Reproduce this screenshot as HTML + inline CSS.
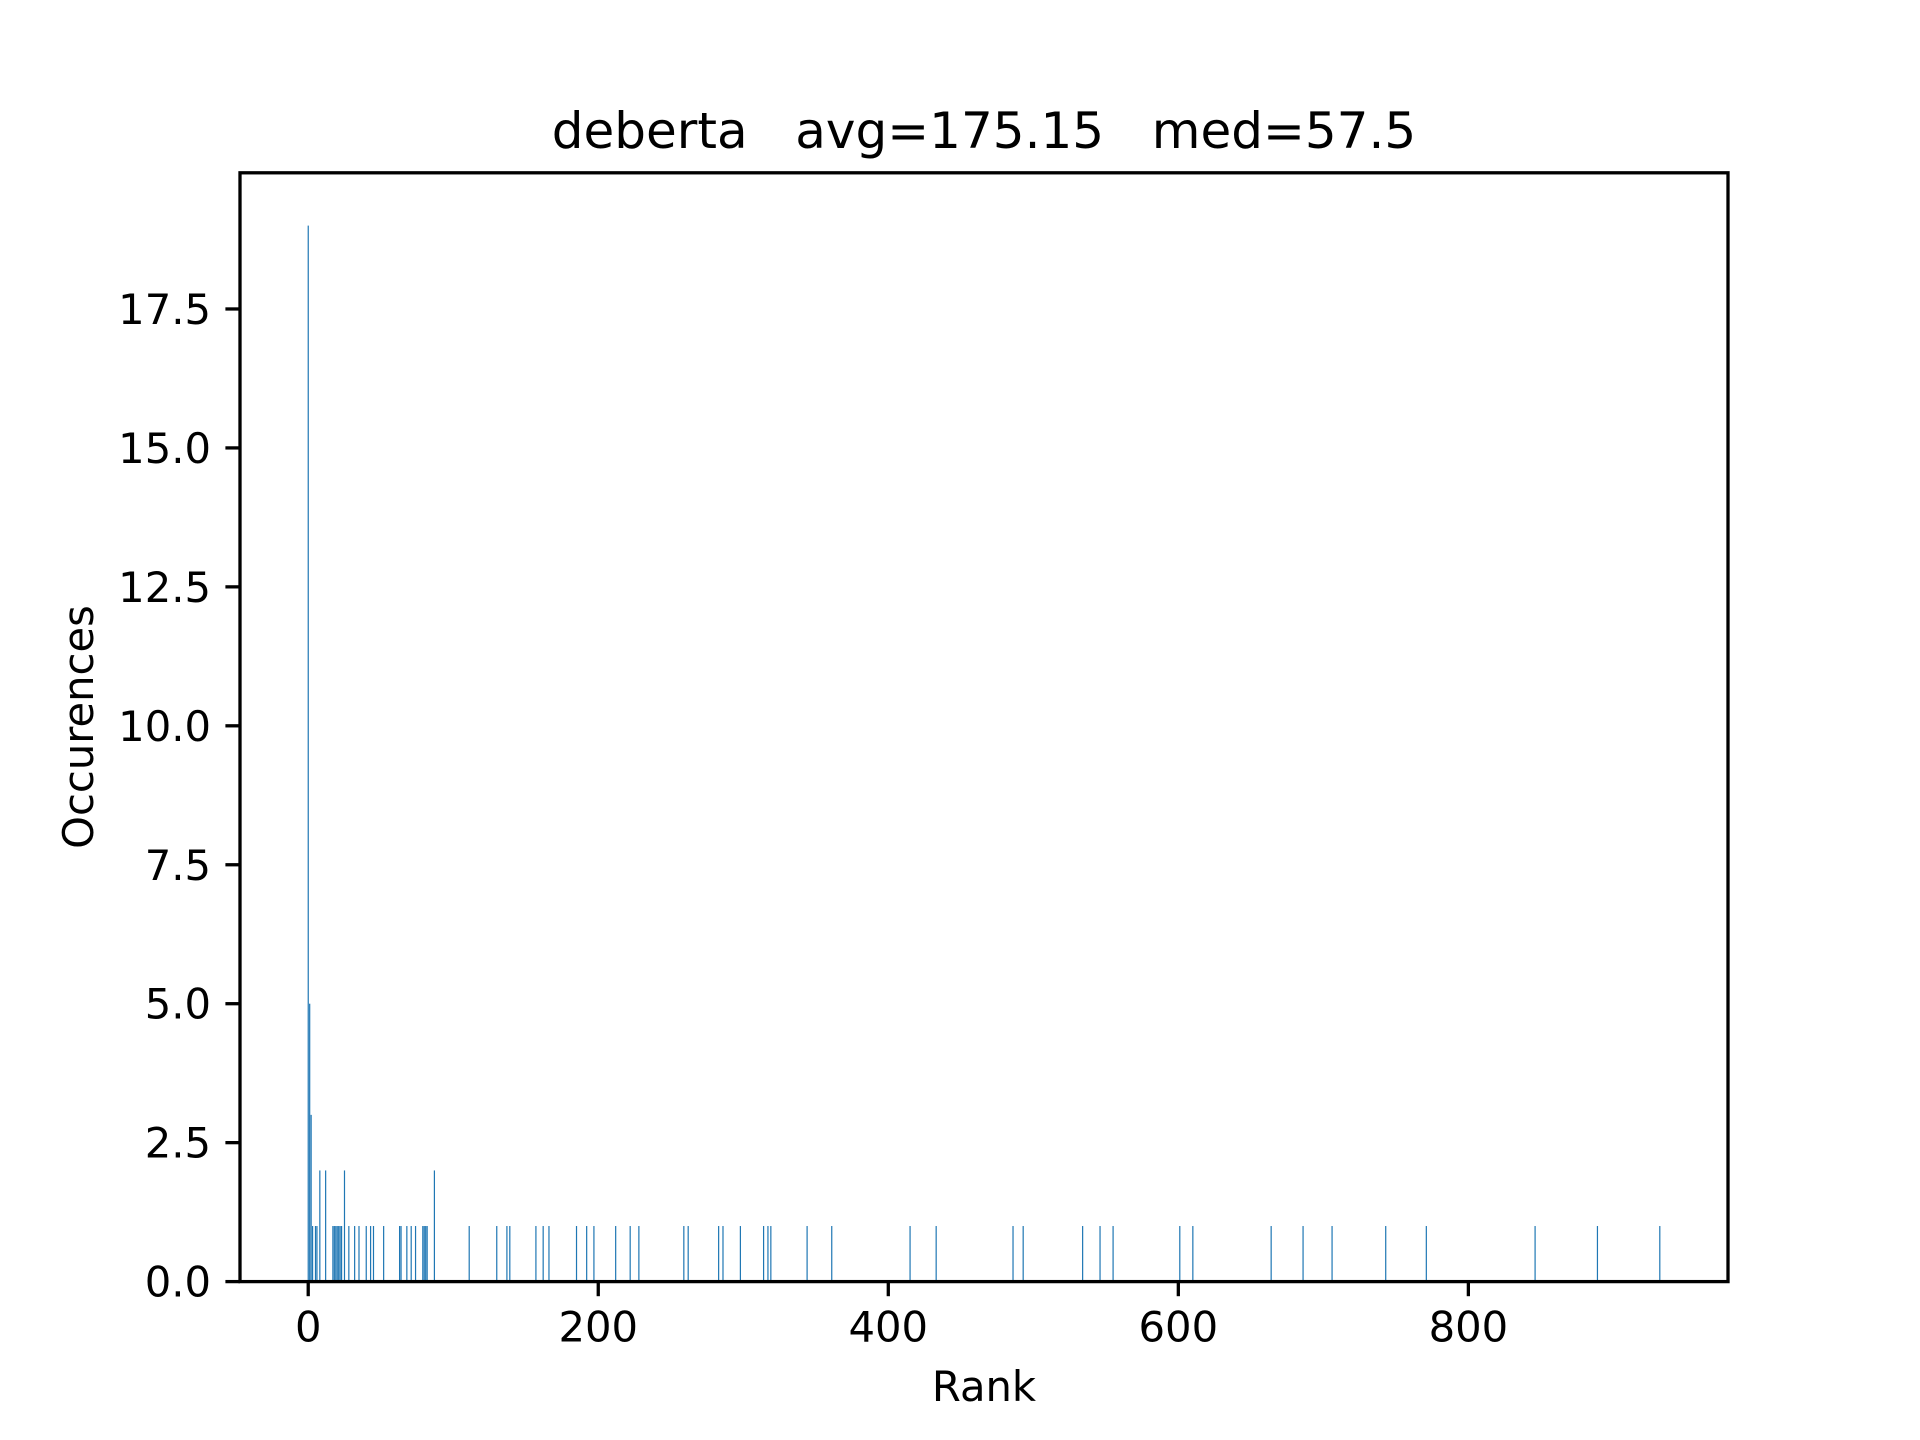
<!DOCTYPE html>
<html><head><meta charset="utf-8"><style>
html,body{margin:0;padding:0;background:#fff;}
svg{display:block;font-family:"DejaVu Sans","Liberation Sans",sans-serif;}
</style></head><body>
<svg id="chart" width="1920" height="1440" viewBox="0 0 1920 1440" xmlns="http://www.w3.org/2000/svg">
<rect width="1920" height="1440" fill="#fff"/>
<text x="984" y="148" font-size="50" text-anchor="middle" xml:space="preserve">deberta   avg=175.15   med=57.5</text>
<g id="bars"></g>
<g id="xticks"></g>
<g id="yticks"></g>
<rect x="240" y="172.8" width="1488" height="1108.8" fill="none" stroke="#000" stroke-width="3.3"/>
<text x="984" y="1401" font-size="41.7" text-anchor="middle">Rank</text>
<text x="0" y="0" font-size="41.7" text-anchor="middle" transform="translate(93,727) rotate(-90)">Occurences</text>
</svg>
<script>
const ranks = [0,1,2,3,5,6,8,12,17,18,19,20,21,22,23,25,28,32,35,40,43,45,52,63,64,68,71,74,79,80,81,82,87,111,130,137,139,157,162,166,185,192,197,212,222,228,259,262,283,286,298,314,317,319,344,361,415,433,486,493,534,546,555,601,610,664,686,706,743,771,846,889,932];
const counts = [19,5,3,1,1,1,2,2,1,1,1,1,1,1,1,2,1,1,1,1,1,1,1,1,1,1,1,1,1,1,1,1,2,1,1,1,1,1,1,1,1,1,1,1,1,1,1,1,1,1,1,1,1,1,1,1,1,1,1,1,1,1,1,1,1,1,1,1,1,1,1,1,1];
const xTickValues = [0,200,400,600,800];
const yTickValues = [0,2.5,5,7.5,10,12.5,15,17.5];
const yTickLabels = ["0.0","2.5","5.0","7.5","10.0","12.5","15.0","17.5"];

const NS = "http://www.w3.org/2000/svg";
const L = 240, R = 1728, T = 172.8, B = 1281.6;
const xMinD = Math.min(...ranks) - 0.4, xMaxD = Math.max(...ranks) + 0.4;
const xPad = (xMaxD - xMinD) * 0.05;
const x0 = xMinD - xPad, x1 = xMaxD + xPad;
const yMax = Math.max(...counts) * 1.05;
function xs(v){ return L + (v - x0) / (x1 - x0) * (R - L); }
function ys(v){ return B - v / yMax * (B - T); }

const barsG = document.getElementById('bars');
ranks.forEach((r, i) => {
  const rect = document.createElementNS(NS, 'rect');
  const xa = xs(r - 0.4), xb = xs(r + 0.4);
  rect.setAttribute('x', xa);
  rect.setAttribute('width', Math.max(xb - xa, 1.2));
  rect.setAttribute('y', ys(counts[i]));
  rect.setAttribute('height', B - ys(counts[i]));
  rect.setAttribute('fill', '#1f77b4');
  
  
  barsG.appendChild(rect);
});

const xg = document.getElementById('xticks');
xTickValues.forEach(v => {
  const ln = document.createElementNS(NS, 'line');
  ln.setAttribute('x1', xs(v)); ln.setAttribute('x2', xs(v));
  ln.setAttribute('y1', B); ln.setAttribute('y2', B + 14.6);
  ln.setAttribute('stroke', '#000'); ln.setAttribute('stroke-width', '3.3');
  
  
  xg.appendChild(ln);
  const t = document.createElementNS(NS, 'text');
  t.setAttribute('x', xs(v)); t.setAttribute('y', B + 60);
  t.setAttribute('font-size', '41.7'); t.setAttribute('text-anchor', 'middle');
  t.textContent = String(v);
  
  
  xg.appendChild(t);
});

const yg = document.getElementById('yticks');
yTickValues.forEach((v, i) => {
  const ln = document.createElementNS(NS, 'line');
  ln.setAttribute('x1', L - 14.6); ln.setAttribute('x2', L);
  ln.setAttribute('y1', ys(v)); ln.setAttribute('y2', ys(v));
  ln.setAttribute('stroke', '#000'); ln.setAttribute('stroke-width', '3.3');
  
  
  yg.appendChild(ln);
  const t = document.createElementNS(NS, 'text');
  t.setAttribute('x', L - 29); t.setAttribute('y', ys(v) + 15);
  t.setAttribute('font-size', '41.7'); t.setAttribute('text-anchor', 'end');
  t.textContent = yTickLabels[i];
  
  
  yg.appendChild(t);
});
</script>
</body></html>
